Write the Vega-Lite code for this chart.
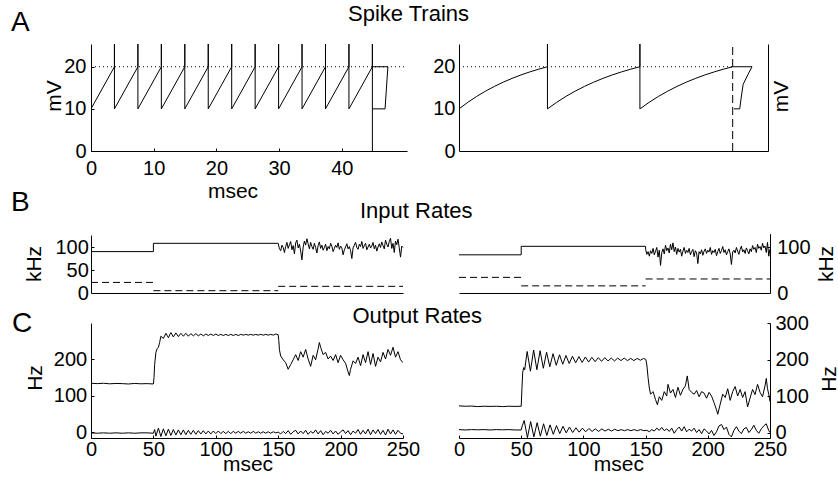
{
"$schema":"https://vega.github.io/schema/vega-lite/v6.json",
"background":"white",
"padding":{"left":11,"top":3,"right":8,"bottom":0},
"config":{
"font":"Liberation Sans",
"view":{"stroke":null},
"axis":{"grid":false,"domainColor":"#000","tickColor":"#000","tickSize":-3,"labelColor":"#000","labelFontSize":20,"labelFont":"Liberation Sans","titleColor":"#000","titleFontSize":21,"titleFont":"Liberation Sans","titleFontWeight":"normal","labelFlush":false,"labelOverlap":false},
"title":{"color":"#000","fontWeight":"normal","font":"Liberation Sans","frame":"group"},
"line":{"color":"#000","strokeWidth":1},
"rule":{"color":"#000","strokeWidth":1}
},
"datasets":{
"aL":[
{"s":"V","t":0,"v":10},
{"s":"V","t":3.74,"v":20},{"s":"V","t":3.74,"v":25.4},{"s":"V","t":3.74,"v":10},
{"s":"V","t":7.48,"v":20},{"s":"V","t":7.48,"v":25.4},{"s":"V","t":7.48,"v":10},
{"s":"V","t":11.22,"v":20},{"s":"V","t":11.22,"v":25.4},{"s":"V","t":11.22,"v":10},
{"s":"V","t":14.96,"v":20},{"s":"V","t":14.96,"v":25.4},{"s":"V","t":14.96,"v":10},
{"s":"V","t":18.7,"v":20},{"s":"V","t":18.7,"v":25.4},{"s":"V","t":18.7,"v":10},
{"s":"V","t":22.44,"v":20},{"s":"V","t":22.44,"v":25.4},{"s":"V","t":22.44,"v":10},
{"s":"V","t":26.18,"v":20},{"s":"V","t":26.18,"v":25.4},{"s":"V","t":26.18,"v":10},
{"s":"V","t":29.92,"v":20},{"s":"V","t":29.92,"v":25.4},{"s":"V","t":29.92,"v":10},
{"s":"V","t":33.66,"v":20},{"s":"V","t":33.66,"v":25.4},{"s":"V","t":33.66,"v":10},
{"s":"V","t":37.4,"v":20},{"s":"V","t":37.4,"v":25.4},{"s":"V","t":37.4,"v":10},
{"s":"V","t":41.14,"v":20},{"s":"V","t":41.14,"v":25.4},{"s":"V","t":41.14,"v":10},
{"s":"V","t":44.88,"v":20},{"s":"V","t":44.88,"v":25.4},{"s":"V","t":44.88,"v":0},
{"s":"box","t":44.88,"v":20},{"s":"box","t":47.35,"v":20},{"s":"box","t":46.9,"v":10},{"s":"box","t":44.88,"v":10},
{"s":"thr","t":0,"v":20},{"s":"thr","t":50.4,"v":20}
],
"aR":[
{"s":"V","t":0,"v":10},{"s":"V","t":2.88,"v":11.56},{"s":"V","t":5.76,"v":12.96},{"s":"V","t":8.64,"v":14.21},{"s":"V","t":11.52,"v":15.33},{"s":"V","t":14.4,"v":16.34},{"s":"V","t":17.28,"v":17.24},{"s":"V","t":20.16,"v":18.05},{"s":"V","t":23.04,"v":18.77},{"s":"V","t":25.92,"v":19.42},{"s":"V","t":28.8,"v":20},
{"s":"V","t":28.8,"v":25.4},{"s":"V","t":28.8,"v":10},
{"s":"V","t":31.81,"v":11.56},{"s":"V","t":34.82,"v":12.96},{"s":"V","t":37.83,"v":14.21},{"s":"V","t":40.84,"v":15.33},{"s":"V","t":43.85,"v":16.34},{"s":"V","t":46.86,"v":17.24},{"s":"V","t":49.87,"v":18.05},{"s":"V","t":52.88,"v":18.77},{"s":"V","t":55.89,"v":19.42},{"s":"V","t":58.9,"v":20},
{"s":"V","t":58.9,"v":25.4},{"s":"V","t":58.9,"v":10},
{"s":"V","t":61.92,"v":11.56},{"s":"V","t":64.94,"v":12.96},{"s":"V","t":67.96,"v":14.21},{"s":"V","t":70.98,"v":15.33},{"s":"V","t":74.0,"v":16.34},{"s":"V","t":77.02,"v":17.24},{"s":"V","t":80.04,"v":18.05},{"s":"V","t":83.06,"v":18.77},{"s":"V","t":86.08,"v":19.42},{"s":"V","t":89.1,"v":20},
{"s":"box","t":89.1,"v":20},{"s":"box","t":95.4,"v":20},{"s":"box","t":94.1,"v":18.2},{"s":"box","t":92.5,"v":15.8},{"s":"box","t":91.8,"v":12.3},{"s":"box","t":91.4,"v":10},{"s":"box","t":89.5,"v":10},
{"s":"thr","t":0,"v":20},{"s":"thr","t":89.1,"v":20},
{"s":"spk","t":89.1,"v":0},{"s":"spk","t":89.1,"v":25.4}
],
"bL":[
{"s":"exc","t":0,"v":90},{"s":"exc","t":50,"v":90},{"s":"exc","t":50,"v":108},{"s":"exc","t":150,"v":108},
{"s":"exc","t":151,"v":96},{"s":"exc","t":152,"v":92},{"s":"exc","t":153,"v":104},{"s":"exc","t":154,"v":99},{"s":"exc","t":155,"v":88},{"s":"exc","t":156,"v":101},{"s":"exc","t":157,"v":110},{"s":"exc","t":158,"v":97},{"s":"exc","t":159,"v":105},{"s":"exc","t":160,"v":112},
{"s":"exc","t":161,"v":94},{"s":"exc","t":162,"v":103},{"s":"exc","t":163,"v":85},{"s":"exc","t":164,"v":109},{"s":"exc","t":165,"v":115},{"s":"exc","t":166,"v":98},{"s":"exc","t":167,"v":106},{"s":"exc","t":168,"v":91},{"s":"exc","t":169,"v":72},{"s":"exc","t":170,"v":100},
{"s":"exc","t":171,"v":113},{"s":"exc","t":172,"v":104},{"s":"exc","t":173,"v":118},{"s":"exc","t":174,"v":107},{"s":"exc","t":175,"v":96},{"s":"exc","t":176,"v":110},{"s":"exc","t":177,"v":101},{"s":"exc","t":178,"v":95},{"s":"exc","t":179,"v":108},{"s":"exc","t":180,"v":99},
{"s":"exc","t":181,"v":87},{"s":"exc","t":182,"v":103},{"s":"exc","t":183,"v":111},{"s":"exc","t":184,"v":97},{"s":"exc","t":185,"v":104},{"s":"exc","t":186,"v":93},{"s":"exc","t":187,"v":99},{"s":"exc","t":188,"v":106},{"s":"exc","t":189,"v":92},{"s":"exc","t":190,"v":101},
{"s":"exc","t":191,"v":96},{"s":"exc","t":192,"v":108},{"s":"exc","t":193,"v":102},{"s":"exc","t":194,"v":90},{"s":"exc","t":195,"v":97},{"s":"exc","t":196,"v":104},{"s":"exc","t":197,"v":99},{"s":"exc","t":198,"v":109},{"s":"exc","t":199,"v":95},{"s":"exc","t":200,"v":102},
{"s":"exc","t":201,"v":98},{"s":"exc","t":202,"v":83},{"s":"exc","t":203,"v":94},{"s":"exc","t":204,"v":100},{"s":"exc","t":205,"v":107},{"s":"exc","t":206,"v":96},{"s":"exc","t":207,"v":101},{"s":"exc","t":208,"v":92},{"s":"exc","t":209,"v":75},{"s":"exc","t":210,"v":98},
{"s":"exc","t":211,"v":104},{"s":"exc","t":212,"v":110},{"s":"exc","t":213,"v":99},{"s":"exc","t":214,"v":95},{"s":"exc","t":215,"v":106},{"s":"exc","t":216,"v":101},{"s":"exc","t":217,"v":112},{"s":"exc","t":218,"v":97},{"s":"exc","t":219,"v":103},{"s":"exc","t":220,"v":108},
{"s":"exc","t":221,"v":94},{"s":"exc","t":222,"v":100},{"s":"exc","t":223,"v":106},{"s":"exc","t":224,"v":98},{"s":"exc","t":225,"v":102},{"s":"exc","t":226,"v":110},{"s":"exc","t":227,"v":96},{"s":"exc","t":228,"v":104},{"s":"exc","t":229,"v":91},{"s":"exc","t":230,"v":100},
{"s":"exc","t":231,"v":107},{"s":"exc","t":232,"v":99},{"s":"exc","t":233,"v":111},{"s":"exc","t":234,"v":103},{"s":"exc","t":235,"v":96},{"s":"exc","t":236,"v":115},{"s":"exc","t":237,"v":106},{"s":"exc","t":238,"v":100},{"s":"exc","t":239,"v":112},{"s":"exc","t":240,"v":119},
{"s":"exc","t":241,"v":97},{"s":"exc","t":242,"v":108},{"s":"exc","t":243,"v":88},{"s":"exc","t":244,"v":113},{"s":"exc","t":245,"v":105},{"s":"exc","t":246,"v":117},{"s":"exc","t":247,"v":98},{"s":"exc","t":248,"v":78},{"s":"exc","t":249,"v":102},{"s":"exc","t":250,"v":99},
{"s":"inh1","t":0,"v":23},{"s":"inh1","t":50,"v":23},
{"s":"inh2","t":50,"v":5},{"s":"inh2","t":150,"v":5},
{"s":"inh3","t":150,"v":14.5},{"s":"inh3","t":250,"v":14.5}
],
"bR":[
{"s":"exc","t":0,"v":83},{"s":"exc","t":50,"v":83},{"s":"exc","t":50,"v":101.5},{"s":"exc","t":150,"v":101.5},{"s":"exc","t":150,"v":95},
{"s":"exc","t":151,"v":84},{"s":"exc","t":152,"v":90},{"s":"exc","t":153,"v":80},{"s":"exc","t":154,"v":92},{"s":"exc","t":155,"v":86},{"s":"exc","t":156,"v":97},{"s":"exc","t":157,"v":83},{"s":"exc","t":158,"v":91},{"s":"exc","t":159,"v":99},{"s":"exc","t":160,"v":78},
{"s":"exc","t":161,"v":93},{"s":"exc","t":162,"v":60},{"s":"exc","t":163,"v":88},{"s":"exc","t":164,"v":96},{"s":"exc","t":165,"v":85},{"s":"exc","t":166,"v":104},{"s":"exc","t":167,"v":92},{"s":"exc","t":168,"v":98},{"s":"exc","t":169,"v":87},{"s":"exc","t":170,"v":106},
{"s":"exc","t":171,"v":94},{"s":"exc","t":172,"v":109},{"s":"exc","t":173,"v":90},{"s":"exc","t":174,"v":100},{"s":"exc","t":175,"v":84},{"s":"exc","t":176,"v":97},{"s":"exc","t":177,"v":89},{"s":"exc","t":178,"v":95},{"s":"exc","t":179,"v":80},{"s":"exc","t":180,"v":91},
{"s":"exc","t":181,"v":99},{"s":"exc","t":182,"v":86},{"s":"exc","t":183,"v":93},{"s":"exc","t":184,"v":88},{"s":"exc","t":185,"v":97},{"s":"exc","t":186,"v":83},{"s":"exc","t":187,"v":90},{"s":"exc","t":188,"v":95},{"s":"exc","t":189,"v":79},{"s":"exc","t":190,"v":92},
{"s":"exc","t":191,"v":87},{"s":"exc","t":192,"v":64},{"s":"exc","t":193,"v":90},{"s":"exc","t":194,"v":85},{"s":"exc","t":195,"v":94},{"s":"exc","t":196,"v":82},{"s":"exc","t":197,"v":91},{"s":"exc","t":198,"v":96},{"s":"exc","t":199,"v":86},{"s":"exc","t":200,"v":93},
{"s":"exc","t":201,"v":89},{"s":"exc","t":202,"v":99},{"s":"exc","t":203,"v":84},{"s":"exc","t":204,"v":92},{"s":"exc","t":205,"v":88},{"s":"exc","t":206,"v":95},{"s":"exc","t":207,"v":81},{"s":"exc","t":208,"v":90},{"s":"exc","t":209,"v":97},{"s":"exc","t":210,"v":86},
{"s":"exc","t":211,"v":92},{"s":"exc","t":212,"v":101},{"s":"exc","t":213,"v":88},{"s":"exc","t":214,"v":94},{"s":"exc","t":215,"v":83},{"s":"exc","t":216,"v":90},{"s":"exc","t":217,"v":96},{"s":"exc","t":218,"v":85},{"s":"exc","t":219,"v":62},{"s":"exc","t":220,"v":89},
{"s":"exc","t":221,"v":93},{"s":"exc","t":222,"v":87},{"s":"exc","t":223,"v":99},{"s":"exc","t":224,"v":91},{"s":"exc","t":225,"v":84},{"s":"exc","t":226,"v":95},{"s":"exc","t":227,"v":102},{"s":"exc","t":228,"v":89},{"s":"exc","t":229,"v":94},{"s":"exc","t":230,"v":86},
{"s":"exc","t":231,"v":98},{"s":"exc","t":232,"v":92},{"s":"exc","t":233,"v":85},{"s":"exc","t":234,"v":96},{"s":"exc","t":235,"v":90},{"s":"exc","t":236,"v":103},{"s":"exc","t":237,"v":95},{"s":"exc","t":238,"v":99},{"s":"exc","t":239,"v":88},{"s":"exc","t":240,"v":106},
{"s":"exc","t":241,"v":97},{"s":"exc","t":242,"v":101},{"s":"exc","t":243,"v":93},{"s":"exc","t":244,"v":108},{"s":"exc","t":245,"v":98},{"s":"exc","t":246,"v":102},{"s":"exc","t":247,"v":88},{"s":"exc","t":248,"v":110},{"s":"exc","t":249,"v":80},{"s":"exc","t":250,"v":96},
{"s":"inh1","t":0,"v":34},{"s":"inh1","t":50,"v":34},
{"s":"inh2","t":50,"v":15.5},{"s":"inh2","t":150,"v":15.5},
{"s":"inh3","t":150,"v":30.5},{"s":"inh3","t":250,"v":30.5}
],
"cL":[
{"s":"r1","t":0,"v":134},{"s":"r1","t":5,"v":133},{"s":"r1","t":10,"v":134},{"s":"r1","t":15,"v":132.5},{"s":"r1","t":20,"v":133.5},{"s":"r1","t":25,"v":133},{"s":"r1","t":30,"v":132},{"s":"r1","t":35,"v":133.5},{"s":"r1","t":40,"v":132.5},{"s":"r1","t":45,"v":133},{"s":"r1","t":50,"v":132},
{"s":"r1","t":50.5,"v":150},{"s":"r1","t":51,"v":185},{"s":"r1","t":52,"v":218},{"s":"r1","t":53,"v":228},{"s":"r1","t":54,"v":232},{"s":"r1","t":55,"v":245},{"s":"r1","t":56,"v":262},{"s":"r1","t":58,"v":256},{"s":"r1","t":60,"v":270},
{"s":"r1","t":62,"v":258},{"s":"r1","t":64,"v":272},{"s":"r1","t":66,"v":260},{"s":"r1","t":68,"v":271},{"s":"r1","t":70,"v":261},{"s":"r1","t":72,"v":270},{"s":"r1","t":74,"v":262},{"s":"r1","t":76,"v":270},{"s":"r1","t":78,"v":262},{"s":"r1","t":80,"v":269},
{"s":"r1","t":82,"v":263},{"s":"r1","t":84,"v":269},{"s":"r1","t":86,"v":263},{"s":"r1","t":88,"v":268},{"s":"r1","t":90,"v":263},{"s":"r1","t":92,"v":268},{"s":"r1","t":94,"v":264},{"s":"r1","t":96,"v":268},{"s":"r1","t":98,"v":264},{"s":"r1","t":100,"v":268},
{"s":"r1","t":102,"v":264},{"s":"r1","t":104,"v":267},{"s":"r1","t":106,"v":264},{"s":"r1","t":108,"v":267},{"s":"r1","t":110,"v":264},{"s":"r1","t":112,"v":267},{"s":"r1","t":114,"v":264},{"s":"r1","t":116,"v":267},{"s":"r1","t":118,"v":264},{"s":"r1","t":120,"v":267},
{"s":"r1","t":122,"v":265},{"s":"r1","t":124,"v":267},{"s":"r1","t":126,"v":265},{"s":"r1","t":128,"v":267},{"s":"r1","t":130,"v":265},{"s":"r1","t":132,"v":267},{"s":"r1","t":134,"v":265},{"s":"r1","t":136,"v":267},{"s":"r1","t":138,"v":265},{"s":"r1","t":140,"v":267},
{"s":"r1","t":142,"v":265},{"s":"r1","t":144,"v":267},{"s":"r1","t":146,"v":265},{"s":"r1","t":148,"v":268},{"s":"r1","t":150,"v":266},{"s":"r1","t":150.5,"v":250},{"s":"r1","t":151,"v":225},{"s":"r1","t":152,"v":208},{"s":"r1","t":154,"v":198},{"s":"r1","t":156,"v":190},
{"s":"r1","t":158,"v":172},{"s":"r1","t":160,"v":185},{"s":"r1","t":162,"v":198},{"s":"r1","t":164,"v":212},{"s":"r1","t":166,"v":196},{"s":"r1","t":168,"v":220},{"s":"r1","t":170,"v":205},{"s":"r1","t":172,"v":226},{"s":"r1","t":174,"v":200},{"s":"r1","t":176,"v":180},
{"s":"r1","t":178,"v":210},{"s":"r1","t":180,"v":198},{"s":"r1","t":182,"v":228},{"s":"r1","t":183,"v":245},{"s":"r1","t":184,"v":232},{"s":"r1","t":186,"v":212},{"s":"r1","t":188,"v":218},{"s":"r1","t":190,"v":200},{"s":"r1","t":192,"v":208},{"s":"r1","t":194,"v":196},
{"s":"r1","t":196,"v":212},{"s":"r1","t":198,"v":190},{"s":"r1","t":200,"v":210},{"s":"r1","t":202,"v":198},{"s":"r1","t":204,"v":188},{"s":"r1","t":206,"v":165},{"s":"r1","t":207,"v":155},{"s":"r1","t":208,"v":172},{"s":"r1","t":210,"v":195},{"s":"r1","t":212,"v":188},
{"s":"r1","t":214,"v":205},{"s":"r1","t":216,"v":182},{"s":"r1","t":218,"v":212},{"s":"r1","t":220,"v":190},{"s":"r1","t":222,"v":220},{"s":"r1","t":224,"v":185},{"s":"r1","t":226,"v":215},{"s":"r1","t":228,"v":180},{"s":"r1","t":230,"v":205},{"s":"r1","t":232,"v":192},
{"s":"r1","t":234,"v":218},{"s":"r1","t":236,"v":200},{"s":"r1","t":238,"v":226},{"s":"r1","t":240,"v":210},{"s":"r1","t":242,"v":232},{"s":"r1","t":244,"v":205},{"s":"r1","t":246,"v":220},{"s":"r1","t":248,"v":198},{"s":"r1","t":250,"v":190},
{"s":"r2","t":0,"v":-1},{"s":"r2","t":5,"v":-2},{"s":"r2","t":10,"v":-1},{"s":"r2","t":15,"v":-2},{"s":"r2","t":20,"v":-1},{"s":"r2","t":25,"v":-2},{"s":"r2","t":30,"v":-1},{"s":"r2","t":35,"v":-2},{"s":"r2","t":40,"v":-1},{"s":"r2","t":45,"v":-1},{"s":"r2","t":50,"v":-2},
{"s":"r2","t":51,"v":8},{"s":"r2","t":52,"v":-10},{"s":"r2","t":54,"v":12},{"s":"r2","t":56,"v":-11},{"s":"r2","t":58,"v":10},{"s":"r2","t":60,"v":-9},{"s":"r2","t":62,"v":9},{"s":"r2","t":64,"v":-8},{"s":"r2","t":66,"v":8},{"s":"r2","t":68,"v":-7},
{"s":"r2","t":70,"v":7},{"s":"r2","t":72,"v":-6},{"s":"r2","t":74,"v":7},{"s":"r2","t":76,"v":-6},{"s":"r2","t":78,"v":6},{"s":"r2","t":80,"v":-5},{"s":"r2","t":82,"v":6},{"s":"r2","t":84,"v":-5},{"s":"r2","t":86,"v":5},{"s":"r2","t":88,"v":-4},
{"s":"r2","t":90,"v":5},{"s":"r2","t":92,"v":-4},{"s":"r2","t":94,"v":4},{"s":"r2","t":96,"v":-4},{"s":"r2","t":98,"v":4},{"s":"r2","t":100,"v":-3},{"s":"r2","t":102,"v":4},{"s":"r2","t":104,"v":-3},{"s":"r2","t":106,"v":3},{"s":"r2","t":108,"v":-3},
{"s":"r2","t":110,"v":3},{"s":"r2","t":112,"v":-3},{"s":"r2","t":114,"v":3},{"s":"r2","t":116,"v":-2},{"s":"r2","t":118,"v":3},{"s":"r2","t":120,"v":-2},{"s":"r2","t":122,"v":3},{"s":"r2","t":124,"v":-2},{"s":"r2","t":126,"v":2},{"s":"r2","t":128,"v":-2},
{"s":"r2","t":130,"v":3},{"s":"r2","t":132,"v":-2},{"s":"r2","t":134,"v":2},{"s":"r2","t":136,"v":-2},{"s":"r2","t":138,"v":2},{"s":"r2","t":140,"v":-2},{"s":"r2","t":142,"v":2},{"s":"r2","t":144,"v":-2},{"s":"r2","t":146,"v":2},{"s":"r2","t":148,"v":-1},
{"s":"r2","t":150,"v":1},{"s":"r2","t":152,"v":-4},{"s":"r2","t":154,"v":3},{"s":"r2","t":156,"v":-3},{"s":"r2","t":158,"v":5},{"s":"r2","t":160,"v":-5},{"s":"r2","t":162,"v":2},{"s":"r2","t":164,"v":6},{"s":"r2","t":166,"v":-4},{"s":"r2","t":168,"v":4},
{"s":"r2","t":170,"v":-3},{"s":"r2","t":172,"v":6},{"s":"r2","t":174,"v":-5},{"s":"r2","t":176,"v":3},{"s":"r2","t":178,"v":-2},{"s":"r2","t":180,"v":7},{"s":"r2","t":182,"v":-4},{"s":"r2","t":184,"v":5},{"s":"r2","t":186,"v":-6},{"s":"r2","t":188,"v":3},
{"s":"r2","t":190,"v":-2},{"s":"r2","t":192,"v":6},{"s":"r2","t":194,"v":-4},{"s":"r2","t":196,"v":4},{"s":"r2","t":198,"v":-5},{"s":"r2","t":200,"v":2},{"s":"r2","t":202,"v":7},{"s":"r2","t":204,"v":-3},{"s":"r2","t":206,"v":5},{"s":"r2","t":208,"v":-6},
{"s":"r2","t":210,"v":4},{"s":"r2","t":212,"v":-2},{"s":"r2","t":214,"v":8},{"s":"r2","t":216,"v":-5},{"s":"r2","t":218,"v":6},{"s":"r2","t":220,"v":-4},{"s":"r2","t":222,"v":9},{"s":"r2","t":224,"v":-6},{"s":"r2","t":226,"v":7},{"s":"r2","t":228,"v":-3},
{"s":"r2","t":230,"v":8},{"s":"r2","t":232,"v":-5},{"s":"r2","t":234,"v":6},{"s":"r2","t":236,"v":-7},{"s":"r2","t":238,"v":9},{"s":"r2","t":240,"v":-4},{"s":"r2","t":242,"v":7},{"s":"r2","t":244,"v":-5},{"s":"r2","t":246,"v":6},{"s":"r2","t":248,"v":-2},{"s":"r2","t":250,"v":-4}
],
"cR":[
{"s":"r1","t":0,"v":73},{"s":"r1","t":5,"v":72},{"s":"r1","t":10,"v":72.5},{"s":"r1","t":15,"v":71},{"s":"r1","t":20,"v":72},{"s":"r1","t":25,"v":71.5},{"s":"r1","t":30,"v":72},{"s":"r1","t":35,"v":71},{"s":"r1","t":40,"v":72},{"s":"r1","t":45,"v":71.5},{"s":"r1","t":50,"v":72},
{"s":"r1","t":50.6,"v":120},{"s":"r1","t":51.2,"v":165},{"s":"r1","t":52,"v":178},{"s":"r1","t":52.8,"v":172},{"s":"r1","t":54.8,"v":222},{"s":"r1","t":57.4,"v":168},{"s":"r1","t":60,"v":226},{"s":"r1","t":62.6,"v":172},{"s":"r1","t":65.2,"v":224},{"s":"r1","t":67.8,"v":176},
{"s":"r1","t":70.4,"v":220},{"s":"r1","t":73,"v":180},{"s":"r1","t":75.6,"v":216},{"s":"r1","t":78.2,"v":184},{"s":"r1","t":80.8,"v":213},{"s":"r1","t":83.4,"v":187},{"s":"r1","t":86,"v":211},{"s":"r1","t":88.6,"v":189},{"s":"r1","t":91.2,"v":209},{"s":"r1","t":93.8,"v":191},
{"s":"r1","t":96.4,"v":208},{"s":"r1","t":99,"v":192},{"s":"r1","t":101.6,"v":207},{"s":"r1","t":104.2,"v":193},{"s":"r1","t":106.8,"v":206},{"s":"r1","t":109.4,"v":194},{"s":"r1","t":112,"v":205},{"s":"r1","t":114.6,"v":195},{"s":"r1","t":117.2,"v":205},{"s":"r1","t":119.8,"v":196},
{"s":"r1","t":122.4,"v":204},{"s":"r1","t":125,"v":196},{"s":"r1","t":127.6,"v":204},{"s":"r1","t":130.2,"v":197},{"s":"r1","t":132.8,"v":204},{"s":"r1","t":135.4,"v":197},{"s":"r1","t":138,"v":203},{"s":"r1","t":140.6,"v":197},{"s":"r1","t":143.2,"v":203},{"s":"r1","t":145.8,"v":198},
{"s":"r1","t":148.4,"v":203},{"s":"r1","t":150.2,"v":200},{"s":"r1","t":151,"v":185},{"s":"r1","t":152,"v":150},{"s":"r1","t":153,"v":122},{"s":"r1","t":154,"v":105},{"s":"r1","t":156,"v":112},{"s":"r1","t":158,"v":90},{"s":"r1","t":159.5,"v":76},{"s":"r1","t":161,"v":98},
{"s":"r1","t":163,"v":88},{"s":"r1","t":165,"v":112},{"s":"r1","t":167,"v":100},{"s":"r1","t":168,"v":132},{"s":"r1","t":170,"v":108},{"s":"r1","t":172,"v":118},{"s":"r1","t":174,"v":96},{"s":"r1","t":176,"v":124},{"s":"r1","t":178,"v":102},{"s":"r1","t":180,"v":118},
{"s":"r1","t":182,"v":128},{"s":"r1","t":183.5,"v":155},{"s":"r1","t":185,"v":118},{"s":"r1","t":187,"v":110},{"s":"r1","t":189,"v":105},{"s":"r1","t":191,"v":115},{"s":"r1","t":193,"v":98},{"s":"r1","t":195,"v":112},{"s":"r1","t":197,"v":108},{"s":"r1","t":199,"v":94},
{"s":"r1","t":201,"v":110},{"s":"r1","t":203,"v":100},{"s":"r1","t":205,"v":82},{"s":"r1","t":207,"v":62},{"s":"r1","t":208,"v":50},{"s":"r1","t":210,"v":78},{"s":"r1","t":212,"v":105},{"s":"r1","t":214,"v":96},{"s":"r1","t":216,"v":120},{"s":"r1","t":218,"v":88},
{"s":"r1","t":220,"v":112},{"s":"r1","t":222,"v":126},{"s":"r1","t":224,"v":100},{"s":"r1","t":226,"v":118},{"s":"r1","t":228,"v":96},{"s":"r1","t":230,"v":112},{"s":"r1","t":232,"v":70},{"s":"r1","t":234,"v":95},{"s":"r1","t":236,"v":118},{"s":"r1","t":238,"v":104},
{"s":"r1","t":240,"v":132},{"s":"r1","t":242,"v":110},{"s":"r1","t":244,"v":98},{"s":"r1","t":246,"v":128},{"s":"r1","t":247,"v":148},{"s":"r1","t":248,"v":120},{"s":"r1","t":249,"v":105},{"s":"r1","t":250,"v":85},
{"s":"r2","t":0,"v":8},{"s":"r2","t":5,"v":7},{"s":"r2","t":10,"v":8},{"s":"r2","t":15,"v":7.5},{"s":"r2","t":20,"v":8},{"s":"r2","t":25,"v":7},{"s":"r2","t":30,"v":8},{"s":"r2","t":35,"v":7.5},{"s":"r2","t":40,"v":8},{"s":"r2","t":45,"v":7},{"s":"r2","t":50,"v":7},
{"s":"r2","t":51,"v":20},{"s":"r2","t":52.4,"v":33},{"s":"r2","t":55,"v":-14},{"s":"r2","t":57.6,"v":30},{"s":"r2","t":60.2,"v":-12},{"s":"r2","t":62.8,"v":27},{"s":"r2","t":65.4,"v":-10},{"s":"r2","t":68,"v":24},{"s":"r2","t":70.6,"v":-8},{"s":"r2","t":73.2,"v":21},
{"s":"r2","t":75.8,"v":-5},{"s":"r2","t":78.4,"v":19},{"s":"r2","t":81,"v":-3},{"s":"r2","t":83.6,"v":17},{"s":"r2","t":86.2,"v":-1},{"s":"r2","t":88.8,"v":15},{"s":"r2","t":91.4,"v":0},{"s":"r2","t":94,"v":13},{"s":"r2","t":96.6,"v":1},{"s":"r2","t":99.2,"v":12},
{"s":"r2","t":101.8,"v":2},{"s":"r2","t":104.4,"v":11},{"s":"r2","t":107,"v":3},{"s":"r2","t":109.6,"v":10},{"s":"r2","t":112.2,"v":3},{"s":"r2","t":114.8,"v":10},{"s":"r2","t":117.4,"v":4},{"s":"r2","t":120,"v":9},{"s":"r2","t":122.6,"v":4},{"s":"r2","t":125.2,"v":9},
{"s":"r2","t":127.8,"v":5},{"s":"r2","t":130.4,"v":8},{"s":"r2","t":133,"v":5},{"s":"r2","t":135.6,"v":8},{"s":"r2","t":138.2,"v":5},{"s":"r2","t":140.8,"v":8},{"s":"r2","t":143.4,"v":5},{"s":"r2","t":146,"v":8},{"s":"r2","t":148.6,"v":5},{"s":"r2","t":151,"v":6},
{"s":"r2","t":153,"v":2},{"s":"r2","t":155,"v":8},{"s":"r2","t":157,"v":4},{"s":"r2","t":159,"v":12},{"s":"r2","t":161,"v":6},{"s":"r2","t":163,"v":14},{"s":"r2","t":165,"v":5},{"s":"r2","t":167,"v":10},{"s":"r2","t":169,"v":3},{"s":"r2","t":171,"v":12},
{"s":"r2","t":173,"v":-2},{"s":"r2","t":175,"v":8},{"s":"r2","t":177,"v":15},{"s":"r2","t":179,"v":4},{"s":"r2","t":181,"v":16},{"s":"r2","t":183,"v":2},{"s":"r2","t":185,"v":9},{"s":"r2","t":187,"v":4},{"s":"r2","t":189,"v":12},{"s":"r2","t":191,"v":0},
{"s":"r2","t":193,"v":8},{"s":"r2","t":195,"v":-3},{"s":"r2","t":197,"v":10},{"s":"r2","t":199,"v":4},{"s":"r2","t":201,"v":-4},{"s":"r2","t":203,"v":6},{"s":"r2","t":205,"v":-8},{"s":"r2","t":207,"v":2},{"s":"r2","t":209,"v":18},{"s":"r2","t":211,"v":22},
{"s":"r2","t":213,"v":8},{"s":"r2","t":215,"v":15},{"s":"r2","t":217,"v":-5},{"s":"r2","t":219,"v":-12},{"s":"r2","t":221,"v":6},{"s":"r2","t":223,"v":16},{"s":"r2","t":225,"v":4},{"s":"r2","t":227,"v":-3},{"s":"r2","t":229,"v":10},{"s":"r2","t":231,"v":14},
{"s":"r2","t":233,"v":0},{"s":"r2","t":235,"v":8},{"s":"r2","t":237,"v":20},{"s":"r2","t":239,"v":6},{"s":"r2","t":241,"v":-2},{"s":"r2","t":243,"v":10},{"s":"r2","t":245,"v":18},{"s":"r2","t":247,"v":24},{"s":"r2","t":249,"v":5},{"s":"r2","t":250,"v":0}
]
},
"columns":2,
"spacing":{"row":30,"column":52},
"bounds":"flush",
"align":"each",
"concat":[
{
"width":316,"height":107,
"data":{"name":"aL"},
"title":{"text":"A","fontSize":28,"anchor":"start","dx":-80,"offset":6.7},
"encoding":{
"x":{"field":"t","type":"quantitative","scale":{"domain":[0,50.4],"nice":false,"zero":false},"axis":{"values":[0,10,20,30,40],"title":"msec","labelPadding":10.5,"titleX":141.5,"titleY":46.7,"titleBaseline":"alphabetic"}},
"y":{"field":"v","type":"quantitative","scale":{"domain":[0,25.4],"nice":false,"zero":false},"axis":{"values":[0,10,20],"title":"mV","labelPadding":8,"titleX":-31,"titleY":51.5,"titleAngle":-90,"titleBaseline":"alphabetic"}}
},
"layer":[
{"transform":[{"filter":"datum.s != 'thr'"}],"mark":{"type":"line","clip":true},"encoding":{"detail":{"field":"s"},"order":{"value":null}}},
{"transform":[{"filter":"datum.s == 'thr'"}],"mark":{"type":"line","strokeDash":[1,3]},"encoding":{}}
]
},
{
"width":309,"height":107,
"data":{"name":"aR"},
"title":{"text":"Spike Trains","fontSize":22,"anchor":"start","dx":-111,"offset":16},
"encoding":{
"x":{"field":"t","type":"quantitative","scale":{"domain":[0,100.6],"nice":false,"zero":false},"axis":{"ticks":false,"labels":false,"title":null}}
},
"layer":[
{"transform":[{"filter":"datum.s == 'V' || datum.s == 'box'"}],"mark":{"type":"line","clip":true},"encoding":{"y":{"field":"v","type":"quantitative","scale":{"domain":[0,25.4],"nice":false,"zero":false},"axis":{"values":[0,10,20],"ticks":false,"labelPadding":4,"title":null}},"detail":{"field":"s"},"order":{"value":null}}},
{"transform":[{"filter":"datum.s == 'thr'"}],"mark":{"type":"line","strokeDash":[1,3]},"encoding":{"y":{"field":"v","type":"quantitative","scale":{"domain":[0,25.4],"nice":false,"zero":false},"axis":{"orient":"right","ticks":false,"labels":false,"title":"mV","titleAngle":-90,"titleBaseline":"alphabetic","titleX":19,"titleY":52}}}},
{"transform":[{"filter":"datum.s == 'spk'"}],"mark":{"type":"line","strokeDash":[8,4]},"encoding":{"y":{"field":"v","type":"quantitative","scale":{"domain":[0,25.4],"nice":false,"zero":false},"axis":null},"order":{"value":null}}}
],
"resolve":{"axis":{"y":"independent"}}
},
{
"width":312,"height":112,
"data":{"name":"bL"},
"title":{"text":"B","fontSize":28,"anchor":"start","dx":-80,"offset":-36.3},
"encoding":{
"x":{"field":"t","type":"quantitative","scale":{"domain":[0,250],"nice":false,"zero":false},"axis":{"ticks":false,"labels":false,"title":null}},
"y":{"field":"v","type":"quantitative","scale":{"domain":[0,243.5],"nice":false,"zero":false},"axis":{"values":[0,50,100],"domain":false,"labelPadding":5.7,"title":"kHz","titleX":-51,"titleY":82.5,"titleAngle":-90,"titleBaseline":"alphabetic"}}
},
"layer":[
{"transform":[{"filter":"datum.s == 'exc'"}],"mark":{"type":"line"},"encoding":{"order":{"value":null}}},
{"transform":[{"filter":"datum.s != 'exc'"}],"mark":{"type":"line","strokeDash":[7,4]},"encoding":{"detail":{"field":"s"}}},
{"data":{"values":[{"t":0,"v":0,"v2":125}]},"mark":{"type":"rule","xOffset":0.5},"encoding":{"y2":{"field":"v2"}}}
]
},
{
"width":311,"height":112,
"data":{"name":"bR"},
"title":{"text":"Input Rates","fontSize":22,"anchor":"start","dx":-99,"offset":-42.3},
"encoding":{
"x":{"field":"t","type":"quantitative","scale":{"domain":[0,250],"nice":false,"zero":false},"axis":{"ticks":false,"labels":false,"title":null}},
"y":{"field":"v","type":"quantitative","scale":{"domain":[0,243.5],"nice":false,"zero":false},"axis":{"orient":"right","values":[0,100],"domain":false,"labelPadding":9.7,"title":"kHz","titleX":62,"titleY":82.5,"titleAngle":-90,"titleBaseline":"alphabetic"}}
},
"layer":[
{"transform":[{"filter":"datum.s == 'exc'"}],"mark":{"type":"line"},"encoding":{"order":{"value":null}}},
{"transform":[{"filter":"datum.s != 'exc'"}],"mark":{"type":"line","strokeDash":[7,4]},"encoding":{"detail":{"field":"s"}}},
{"data":{"values":[{"t":250,"v":0,"v2":128}]},"mark":{"type":"rule","xOffset":0.5},"encoding":{"y2":{"field":"v2"}}}
]
},
{
"width":312,"height":115,
"data":{"name":"cL"},
"title":{"text":"C","fontSize":28,"anchor":"start","dx":-79,"offset":-14.9},
"mark":{"type":"line","clip":true},
"encoding":{
"x":{"field":"t","type":"quantitative","scale":{"domain":[0,250],"nice":false,"zero":false},"axis":{"values":[0,50,100,150,200,250],"labelPadding":4.5,"title":"msec","titleX":156.5,"titleY":32,"titleBaseline":"alphabetic"}},
"y":{"field":"v","type":"quantitative","scale":{"domain":[-15,298],"nice":false,"zero":false},"axis":{"values":[0,100,200],"labelPadding":7.3,"title":"Hz","titleX":-49.3,"titleY":54.5,"titleAngle":-90,"titleBaseline":"alphabetic"}},
"detail":{"field":"s"},
"order":{"value":null}
}
},
{
"width":311,"height":115,
"data":{"name":"cR"},
"title":{"text":"Output Rates","fontSize":22,"anchor":"start","dx":-106.6,"offset":-14.6},
"mark":{"type":"line","clip":true},
"encoding":{
"x":{"field":"t","type":"quantitative","scale":{"domain":[0,250],"nice":false,"zero":false},"axis":{"values":[0,50,100,150,200,250],"labelPadding":4.5,"title":"msec","titleX":159.3,"titleY":32,"titleBaseline":"alphabetic"}},
"y":{"field":"v","type":"quantitative","scale":{"domain":[-15,300],"nice":false,"zero":false},"axis":{"orient":"right","values":[0,100,200,300],"labelPadding":8,"title":"Hz","titleX":65,"titleY":55.5,"titleAngle":-90,"titleBaseline":"alphabetic"}},
"detail":{"field":"s"},
"order":{"value":null}
}
}
]
}
